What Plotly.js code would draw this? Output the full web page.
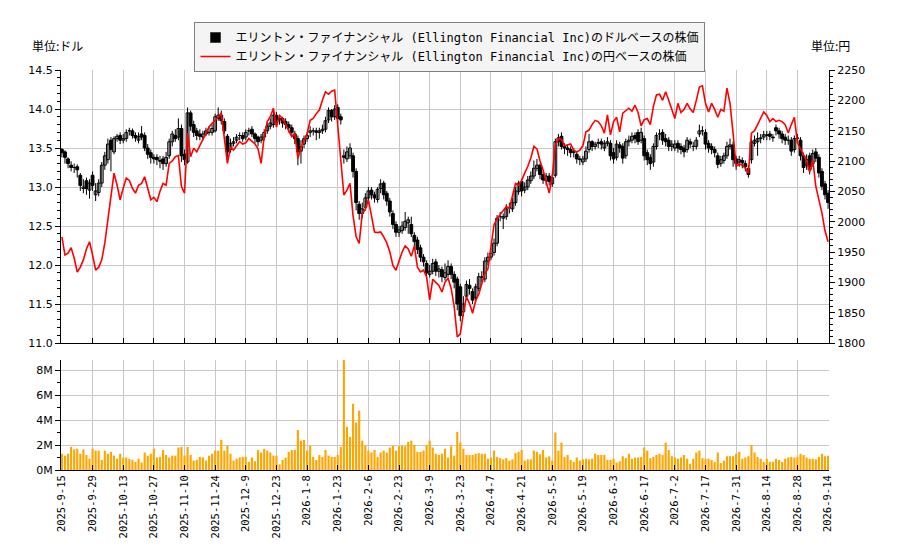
<!DOCTYPE html>
<html>
<head>
<meta charset="utf-8">
<script src="https://cdn.plot.ly/plotly-3.0.1.min.js"></script>
<style>
  html, body { margin: 0; padding: 0; background: #fff; }
  #chart { width: 900px; height: 550px; }
</style>
</head>
<body>
<div id="chart"></div>
<script>
// trading days: weekdays from 2025-09-15, US market holidays skipped
const startDay = '2025-09-15';
const nDays = 251;
const holidays = ['2025-11-27', '2025-12-25', '2026-01-01', '2026-01-19', '2026-02-16',
  '2026-04-03', '2026-05-25', '2026-06-19', '2026-07-03', '2026-09-07'];

// USD candles (open / high / low / close)
const open = [
  13.48,13.45,13.36,13.28,13.25,13.26,13.15,12.98,13.08,12.96,
  13.15,12.90,12.93,13.05,13.28,13.35,13.60,13.45,13.62,13.66,
  13.60,13.62,13.72,13.72,13.66,13.60,13.68,13.66,13.50,13.44,
  13.38,13.38,13.34,13.36,13.30,13.40,13.58,13.66,13.64,13.75,
  13.42,13.32,13.95,13.80,13.72,13.68,13.64,13.68,13.70,13.70,
  13.72,13.88,13.92,13.84,13.65,13.48,13.56,13.60,13.66,13.66,
  13.64,13.72,13.74,13.68,13.64,13.60,13.64,13.72,13.78,13.80,
  13.92,13.86,13.88,13.84,13.80,13.76,13.68,13.62,13.46,13.55,
  13.62,13.70,13.72,13.72,13.70,13.72,13.74,13.86,13.98,13.90,
  14.02,13.90,13.40,13.36,13.40,13.40,13.20,12.78,12.66,12.74,
  12.86,12.96,12.90,12.84,12.98,13.05,12.92,12.82,12.66,12.52,
  12.42,12.44,12.48,12.54,12.52,12.38,12.32,12.22,12.10,12.02,
  11.88,11.92,12.04,11.92,11.94,11.84,11.88,11.98,11.88,11.82,
  11.72,11.40,11.60,11.74,11.66,11.58,11.70,11.84,11.82,12.05,
  12.10,12.16,12.28,12.62,12.60,12.62,12.74,12.72,12.80,12.94,
  13.07,12.96,13.00,13.08,13.14,13.24,13.28,13.16,13.08,13.14,
  13.04,13.15,13.58,13.65,13.52,13.50,13.48,13.44,13.42,13.36,
  13.32,13.36,13.48,13.58,13.52,13.56,13.58,13.50,13.56,13.56,
  13.44,13.38,13.54,13.52,13.40,13.58,13.60,13.66,13.70,13.60,
  13.62,13.44,13.38,13.32,13.52,13.68,13.70,13.62,13.60,13.52,
  13.50,13.56,13.52,13.50,13.48,13.58,13.52,13.52,13.68,13.72,
  13.70,13.56,13.52,13.48,13.40,13.30,13.34,13.40,13.52,13.54,
  13.36,13.32,13.34,13.30,13.24,13.35,13.56,13.58,13.62,13.64,
  13.66,13.68,13.64,13.76,13.72,13.68,13.64,13.60,13.60,13.48,
  13.62,13.60,13.40,13.28,13.40,13.30,13.45,13.38,13.20,13.04,
  12.92
];
const high = [
  13.50,13.47,13.38,13.33,13.30,13.29,13.18,13.10,13.12,13.10,
  13.20,13.05,13.10,13.32,13.45,13.62,13.64,13.65,13.68,13.70,
  13.68,13.74,13.76,13.75,13.70,13.70,13.78,13.70,13.55,13.48,
  13.42,13.42,13.40,13.40,13.45,13.62,13.72,13.74,13.88,13.80,
  13.48,14.02,13.98,13.85,13.76,13.74,13.72,13.76,13.78,13.80,
  13.94,14.02,13.98,13.88,13.68,13.62,13.64,13.68,13.70,13.70,
  13.74,13.76,13.78,13.70,13.66,13.68,13.74,13.82,13.88,13.98,
  13.96,13.92,13.90,13.88,13.84,13.80,13.72,13.66,13.60,13.66,
  13.70,13.78,13.76,13.76,13.76,13.80,13.90,14.02,14.00,14.05,
  14.06,13.94,13.48,13.52,13.56,13.44,13.24,12.82,12.80,12.92,
  13.00,13.00,12.94,13.00,13.10,13.08,12.95,12.86,12.70,12.56,
  12.50,12.56,12.68,12.62,12.62,12.42,12.36,12.26,12.14,12.06,
  12.00,12.08,12.08,12.00,11.98,12.02,12.06,12.02,11.92,11.85,
  11.76,11.60,11.80,11.82,11.70,11.76,11.90,11.92,12.10,12.16,
  12.22,12.34,12.64,12.68,12.66,12.78,12.80,12.86,13.00,13.08,
  13.10,13.06,13.14,13.20,13.34,13.36,13.30,13.20,13.18,13.18,
  13.16,13.62,13.68,13.70,13.56,13.54,13.52,13.50,13.46,13.40,
  13.40,13.52,13.68,13.60,13.58,13.62,13.62,13.60,13.64,13.60,
  13.50,13.60,13.58,13.56,13.62,13.66,13.70,13.70,13.74,13.76,
  13.66,13.48,13.42,13.56,13.70,13.74,13.74,13.68,13.64,13.60,
  13.60,13.60,13.56,13.54,13.64,13.62,13.58,13.64,13.80,13.78,
  13.74,13.60,13.56,13.52,13.44,13.40,13.44,13.58,13.62,13.58,
  13.40,13.40,13.38,13.34,13.28,13.62,13.66,13.70,13.68,13.72,
  13.72,13.72,13.68,13.80,13.76,13.72,13.68,13.66,13.64,13.66,
  13.68,13.64,13.44,13.42,13.44,13.48,13.50,13.42,13.24,13.08,
  12.96
];
const low = [
  13.38,13.30,13.24,13.20,13.18,13.12,12.95,12.92,12.90,12.85,
  12.95,12.82,12.88,13.00,13.22,13.30,13.20,13.42,13.58,13.55,
  13.56,13.58,13.66,13.62,13.58,13.56,13.60,13.46,13.36,13.30,
  13.30,13.28,13.24,13.22,13.26,13.36,13.52,13.58,13.60,13.32,
  13.28,13.30,13.72,13.64,13.60,13.60,13.60,13.65,13.66,13.66,
  13.70,13.85,13.80,13.68,13.38,13.44,13.52,13.56,13.60,13.58,
  13.60,13.66,13.64,13.56,13.52,13.56,13.60,13.68,13.74,13.76,
  13.80,13.80,13.76,13.74,13.70,13.66,13.55,13.28,13.30,13.50,
  13.58,13.64,13.66,13.60,13.62,13.68,13.70,13.82,13.84,13.86,
  13.82,13.80,13.30,13.32,13.36,13.12,12.70,12.58,12.60,12.70,
  12.82,12.84,12.80,12.80,12.92,12.84,12.76,12.62,12.46,12.36,
  12.36,12.40,12.44,12.40,12.36,12.24,12.14,12.04,11.98,11.84,
  11.84,11.88,11.86,11.84,11.78,11.80,11.84,11.82,11.70,11.42,
  11.28,11.34,11.55,11.62,11.50,11.52,11.66,11.78,11.78,12.00,
  12.06,12.12,12.24,12.56,12.46,12.58,12.66,12.68,12.76,12.90,
  12.88,12.92,12.96,13.04,13.10,13.20,13.10,13.04,13.02,13.02,
  13.00,13.12,13.52,13.48,13.42,13.40,13.38,13.38,13.30,13.28,
  13.28,13.32,13.44,13.46,13.48,13.50,13.48,13.46,13.52,13.34,
  13.30,13.34,13.44,13.30,13.36,13.52,13.56,13.56,13.54,13.56,
  13.34,13.28,13.22,13.26,13.48,13.60,13.54,13.52,13.46,13.46,
  13.46,13.44,13.42,13.38,13.44,13.50,13.46,13.48,13.64,13.66,
  13.48,13.44,13.42,13.38,13.24,13.26,13.30,13.36,13.48,13.26,
  13.22,13.26,13.24,13.20,13.12,13.30,13.52,13.40,13.56,13.60,
  13.60,13.60,13.58,13.66,13.62,13.56,13.54,13.54,13.40,13.44,
  13.56,13.34,13.18,13.22,13.16,13.26,13.32,13.12,12.96,12.84,
  12.72
];
const close = [
  13.44,13.38,13.30,13.25,13.25,13.22,13.02,13.00,12.98,13.05,
  13.02,12.95,13.05,13.28,13.40,13.55,13.48,13.62,13.65,13.60,
  13.62,13.70,13.72,13.66,13.63,13.65,13.64,13.50,13.42,13.38,
  13.36,13.35,13.33,13.30,13.38,13.58,13.68,13.62,13.75,13.40,
  13.35,13.95,13.78,13.70,13.66,13.65,13.68,13.72,13.70,13.75,
  13.90,13.92,13.85,13.72,13.45,13.56,13.58,13.64,13.66,13.62,
  13.70,13.72,13.68,13.62,13.58,13.64,13.70,13.78,13.82,13.92,
  13.85,13.88,13.82,13.80,13.76,13.70,13.62,13.45,13.52,13.62,
  13.66,13.72,13.72,13.70,13.72,13.74,13.85,13.98,13.90,14.00,
  13.88,13.86,13.38,13.45,13.50,13.20,12.80,12.66,12.72,12.86,
  12.95,12.90,12.86,12.97,13.04,12.90,12.82,12.68,12.52,12.42,
  12.45,12.50,12.56,12.58,12.40,12.30,12.20,12.10,12.04,11.90,
  11.92,12.02,11.92,11.95,11.85,11.90,11.98,11.88,11.78,11.50,
  11.35,11.50,11.75,11.70,11.55,11.72,11.85,11.85,12.05,12.10,
  12.15,12.28,12.60,12.62,12.62,12.72,12.73,12.80,12.95,13.05,
  12.95,13.00,13.09,13.14,13.24,13.28,13.16,13.09,13.14,13.07,
  13.12,13.58,13.63,13.52,13.50,13.48,13.44,13.46,13.36,13.35,
  13.36,13.46,13.58,13.52,13.55,13.57,13.55,13.56,13.58,13.40,
  13.36,13.55,13.50,13.37,13.58,13.60,13.65,13.62,13.58,13.70,
  13.40,13.35,13.30,13.52,13.66,13.68,13.60,13.58,13.52,13.55,
  13.55,13.50,13.48,13.45,13.60,13.55,13.52,13.60,13.72,13.72,
  13.55,13.50,13.48,13.44,13.29,13.35,13.40,13.52,13.54,13.35,
  13.30,13.35,13.31,13.26,13.16,13.58,13.60,13.62,13.63,13.67,
  13.67,13.65,13.63,13.72,13.68,13.62,13.60,13.60,13.46,13.62,
  13.63,13.40,13.25,13.35,13.22,13.43,13.37,13.18,13.01,12.90,
  12.80
];

// JPY price line
const yen = [
  1975,1945,1948,1957,1940,1917,1925,1937,1955,1967,
  1945,1920,1925,1937,1965,2003,2045,2080,2060,2036,
  2055,2072,2068,2055,2047,2060,2063,2074,2055,2036,
  2040,2033,2050,2063,2060,2096,2100,2107,2109,2058,
  2047,2146,2107,2121,2115,2125,2134,2145,2156,2162,
  2167,2172,2179,2140,2096,2123,2118,2125,2132,2128,
  2130,2137,2132,2128,2120,2096,2140,2165,2173,2187,
  2156,2175,2170,2160,2150,2140,2145,2104,2122,2135,
  2145,2167,2170,2178,2184,2200,2214,2210,2215,2217,
  2160,2090,2044,2052,2063,2010,1975,1964,2014,2020,
  2036,2010,1983,1982,1983,1975,1965,1950,1928,1920,
  1935,1950,1960,1955,1943,1960,1925,1917,1920,1909,
  1871,1905,1900,1895,1884,1900,1907,1890,1860,1810,
  1815,1850,1876,1865,1849,1870,1880,1900,1915,1922,
  1955,1995,2005,2012,2020,2025,2022,2045,2063,2060,
  2068,2080,2091,2105,2124,2120,2100,2085,2065,2047,
  2075,2126,2137,2136,2125,2127,2128,2118,2115,2118,
  2125,2148,2151,2160,2167,2165,2158,2146,2176,2143,
  2165,2172,2148,2179,2183,2187,2182,2192,2180,2158,
  2168,2170,2160,2190,2209,2210,2200,2214,2200,2185,
  2170,2195,2180,2185,2195,2186,2180,2200,2222,2224,
  2195,2181,2195,2185,2172,2185,2182,2220,2195,2146,
  2091,2095,2093,2088,2080,2146,2150,2160,2170,2181,
  2175,2165,2170,2165,2167,2165,2160,2146,2160,2172,
  2130,2120,2110,2100,2082,2102,2058,2035,2014,1985,
  1967
];

// volume, millions of shares
const volumeM = [
  1.30,1.15,1.30,1.85,1.65,1.70,1.30,1.65,1.20,0.90,
  1.70,1.55,1.55,0.80,1.55,1.30,1.45,1.15,0.90,1.30,
  1.00,1.00,0.90,0.80,0.65,0.90,0.60,1.40,1.15,1.30,
  1.70,1.00,1.05,1.60,1.20,1.00,1.15,1.15,1.80,1.85,
  1.15,1.85,1.20,0.75,0.80,1.05,1.00,0.75,1.15,1.30,
  1.55,1.55,2.40,1.55,1.95,1.30,0.75,0.90,1.00,1.05,
  1.05,0.65,1.00,0.70,1.60,1.40,1.70,1.55,1.40,1.15,
  1.15,0.45,0.80,1.00,1.45,1.60,1.60,3.20,2.35,2.40,
  1.55,1.95,1.05,0.80,1.20,1.05,1.60,1.15,1.05,1.05,
  1.20,1.85,9.50,3.45,2.65,5.30,3.80,4.75,2.35,1.95,
  1.55,1.40,1.60,1.05,1.40,1.55,1.40,1.80,1.95,1.55,
  1.90,1.95,1.90,2.25,2.35,2.00,1.45,1.45,1.55,2.00,
  2.35,1.80,1.30,1.20,1.30,1.70,1.00,1.90,1.15,3.05,
  2.20,1.70,1.20,1.20,1.20,1.30,1.35,1.30,1.30,0.90,
  1.00,1.55,1.05,0.95,0.85,0.95,0.75,0.85,1.35,1.45,
  1.60,0.75,0.85,0.85,1.55,1.45,1.25,1.60,1.00,1.10,
  0.75,3.00,1.55,2.20,1.05,1.20,0.80,0.65,1.00,0.75,
  0.85,0.90,0.85,0.90,1.30,1.20,1.20,1.20,0.80,0.80,
  0.90,0.60,0.70,1.10,0.95,1.30,0.90,1.00,1.00,1.05,
  1.80,1.55,0.95,1.05,1.20,1.30,1.20,2.20,1.60,1.10,
  1.00,0.90,1.00,1.20,0.90,0.50,0.90,1.40,1.55,0.95,
  0.90,0.90,0.80,0.65,1.40,0.55,0.75,1.10,1.10,1.10,
  1.30,1.45,0.90,1.00,1.10,2.00,1.40,1.05,0.90,0.65,
  0.90,0.65,0.65,0.90,0.80,0.65,0.90,1.00,1.05,1.00,
  1.05,1.30,1.20,1.00,0.90,0.90,0.85,1.05,1.30,1.10,
  1.15
];

const usdName = 'エリントン・ファイナンシャル (Ellington Financial Inc)のドルベースの株価';
const yenName = 'エリントン・ファイナンシャル (Ellington Financial Inc)の円ベースの株価';

function tradingDays(start, n, skip) {
  const out = [];
  const d = new Date(start + 'T00:00:00Z');
  while (out.length < n) {
    const wd = d.getUTCDay();
    const iso = d.toISOString().slice(0, 10);
    if (wd !== 0 && wd !== 6 && skip.indexOf(iso) < 0) {
      out.push(d.getUTCFullYear() + '-' + (d.getUTCMonth() + 1) + '-' + d.getUTCDate());
    }
    d.setUTCDate(d.getUTCDate() + 1);
  }
  return out;
}

const dates = tradingDays(startDay, nDays, holidays);
const tickDates = dates.filter((_, i) => i % 10 === 0);

const font = 'DejaVu Sans, sans-serif';
const monoFont = 'DejaVu Sans Mono, Noto Sans CJK JP, monospace';
const jpFont = 'Noto Sans CJK JP, sans-serif';
const gridColor = '#c8c8c8';

// candles drawn by hand: wicks as one broken line, bodies as floating bars
const wickX = [], wickY = [];
dates.forEach((d, i) => {
  wickX.push(d, d, null);
  wickY.push(low[i], high[i], null);
});
const bodyBase = open.map((o, i) => Math.min(o, close[i]));
const bodySize = open.map((o, i) => Math.abs(close[i] - o));
const bodyFill = open.map((o, i) => close[i] >= o ? '#ffffff' : '#000000');

const wicks = {
  type: 'scatter', mode: 'lines',
  x: wickX, y: wickY, connectgaps: false,
  xaxis: 'x', yaxis: 'y',
  line: { color: '#000', width: 1 },
  showlegend: false, hoverinfo: 'skip'
};

const bodies = {
  type: 'bar',
  x: dates, y: bodySize, base: bodyBase,
  xaxis: 'x', yaxis: 'y',
  width: 0.92,
  marker: { color: bodyFill, line: { color: '#000', width: 1 } },
  showlegend: false, hoverinfo: 'skip'
};

// legend stand-in for the candles (square marker like the original)
const candleKey = {
  type: 'scatter', mode: 'markers', x: [null], y: [null],
  xaxis: 'x', yaxis: 'y',
  name: usdName,
  marker: { symbol: 'square', size: 10, color: '#000', line: { color: '#444', width: 1 } }
};

const yenLine = {
  type: 'scatter', mode: 'lines',
  x: dates, y: yen,
  xaxis: 'x', yaxis: 'y2',
  name: yenName,
  line: { color: '#ff0000', width: 1.6 },
  hoverinfo: 'skip'
};

const volBars = {
  type: 'bar',
  x: dates, y: volumeM,
  xaxis: 'x2', yaxis: 'y3',
  width: 0.7,
  marker: { color: '#ffa500' },
  showlegend: false,
  hoverinfo: 'skip'
};

const xRange = [-0.3, nDays - 0.7];

const layout = {
  width: 900, height: 550,
  margin: { l: 61, r: 71, t: 70, b: 80 },
  paper_bgcolor: '#fff', plot_bgcolor: '#fff',
  font: { family: font, size: 11, color: '#000' },
  barmode: 'overlay',
  showlegend: true,
  legend: {
    x: 0.5065, xanchor: 'center', y: 1.12, yanchor: 'top',
    traceorder: 'normal',
    bgcolor: '#f4f4f4', bordercolor: '#808080', borderwidth: 1,
    font: { family: monoFont, size: 12, color: '#000' },
    tracegroupgap: 2
  },
  xaxis: {
    type: 'category', domain: [0, 1], anchor: 'y', range: xRange,
    tickvals: tickDates, showticklabels: false,
    ticks: 'inside', ticklen: 5, tickcolor: '#000',
    showgrid: true, gridcolor: gridColor,
    showline: true, linecolor: '#000', linewidth: 1,
    zeroline: false
  },
  xaxis2: {
    type: 'category', domain: [0, 1], anchor: 'y3', range: xRange,
    matches: 'x',
    tickvals: tickDates, ticktext: tickDates, tickangle: -90,
    ticks: 'inside', ticklen: 5, tickcolor: '#000',
    tickfont: { family: monoFont, size: 10.5 },
    showgrid: true, gridcolor: gridColor,
    showline: true, linecolor: '#000', linewidth: 1,
    zeroline: false
  },
  yaxis: {
    domain: [0.3175, 1], anchor: 'x', range: [11.0, 14.5],
    tickvals: [11.0, 11.5, 12.0, 12.5, 13.0, 13.5, 14.0, 14.5],
    ticktext: ['11.0', '11.5', '12.0', '12.5', '13.0', '13.5', '14.0', '14.5'],
    ticks: 'outside', ticklen: 5, tickcolor: '#000',
    minor: { dtick: 0.1, ticks: 'outside', ticklen: 3, tickcolor: '#000', showgrid: false },
    showgrid: true, gridcolor: gridColor,
    showline: true, linecolor: '#000', linewidth: 1,
    zeroline: false
  },
  yaxis2: {
    overlaying: 'y', side: 'right', anchor: 'x', range: [1800, 2250],
    dtick: 50, tick0: 1800,
    ticks: 'outside', ticklen: 5, tickcolor: '#000',
    minor: { dtick: 10, ticks: 'outside', ticklen: 3, tickcolor: '#000', showgrid: false },
    showgrid: false,
    showline: true, linecolor: '#000', linewidth: 1,
    zeroline: false
  },
  yaxis3: {
    domain: [0, 0.275], anchor: 'x2', range: [0, 8.8],
    tickvals: [0, 2, 4, 6, 8], ticktext: ['0M', '2M', '4M', '6M', '8M'],
    ticks: 'outside', ticklen: 5, tickcolor: '#000',
    minor: { dtick: 1, ticks: 'outside', ticklen: 3, tickcolor: '#000', showgrid: false },
    showgrid: true, gridcolor: gridColor,
    showline: true, linecolor: '#000', linewidth: 1,
    zeroline: false
  },
  annotations: [
    { text: '単位:ドル', xref: 'paper', yref: 'paper', x: -0.0404, y: 1.06,
      xanchor: 'left', yanchor: 'middle', showarrow: false,
      font: { family: jpFont, size: 12, color: '#000' } },
    { text: '単位:円', xref: 'paper', yref: 'paper', x: 1.03, y: 1.06,
      xanchor: 'right', yanchor: 'middle', showarrow: false,
      font: { family: jpFont, size: 12, color: '#000' } }
  ]
};

Plotly.newPlot('chart', [candleKey, wicks, bodies, yenLine, volBars], layout,
  { staticPlot: true, displayModeBar: false });
</script>
</body>
</html>
